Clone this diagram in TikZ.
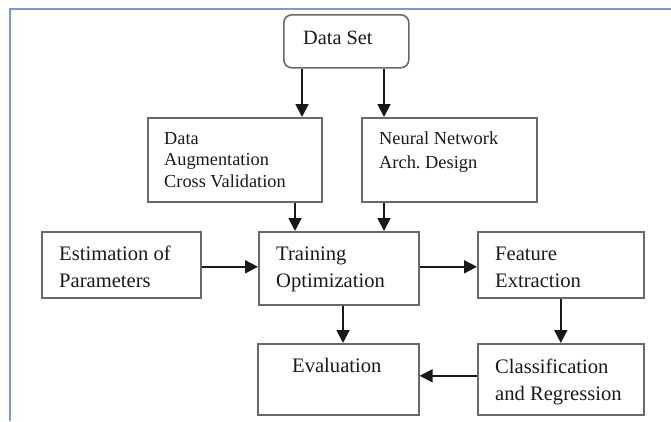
\documentclass[tikz,border=0pt]{standalone}
\usepackage{fontspec}
\setmainfont{Liberation Serif}
\usetikzlibrary{arrows.meta}
\definecolor{frameblue}{RGB}{122,154,204}
\definecolor{boxgray}{RGB}{105,105,105}
\begin{document}
\begin{tikzpicture}[x=1pt,y=-1pt,
  box/.style={draw=boxgray,line width=1.6pt,inner sep=0pt,anchor=north west},
  lbl/.style={inner sep=0pt,anchor=base west,align=left,text=black!90},
  big/.style={font=\fontsize{20.6}{27}\selectfont},
  small/.style={font=\fontsize{18.3}{21.5}\selectfont},
  smallb/.style={font=\fontsize{18.4}{24.5}\selectfont},
  arr/.style={line width=1.8pt,draw=black!90,-{Triangle[length=13pt,width=13pt]}}]
\useasboundingbox (0,0) rectangle (671,421);
\draw[frameblue,line width=2.8pt] (10,421) -- (10,9) -- (671,9);

% boxes
\node[box,rounded corners=8pt,minimum width=125pt,minimum height=53pt] (ds) at (283,14) {};
\node[box,minimum width=174pt,minimum height=84pt] (aug) at (147,117) {};
\node[box,minimum width=175pt,minimum height=84pt] (nn) at (361,117) {};
\node[box,minimum width=159pt,minimum height=66pt] (est) at (41,231) {};
\node[box,minimum width=160pt,minimum height=73pt] (tr) at (258,231) {};
\node[box,minimum width=166pt,minimum height=66pt] (fe) at (477,231) {};
\node[box,minimum width=161pt,minimum height=71pt] (ev) at (257,343) {};
\node[box,minimum width=166pt,minimum height=71pt] (cl) at (477,343) {};

% texts (anchor = baseline of the last line)
\node[lbl,font=\fontsize{20.3}{27}\selectfont] (tds) at (303,44) {Data Set};
\node[lbl,small] (taug) at (164,187) {Data\\Augmentation\\Cross Validation};
\node[lbl,smallb] (tnn) at (379,168.5) {Neural Network\\Arch.\ Design};
\node[lbl,big] (test) at (59,287) {Estimation of\\Parameters};
\node[lbl,big] (ttr) at (276,287) {Training\\Optimization};
\node[lbl,big] (tfe) at (495,287) {Feature\\Extraction};
\node[lbl,big] (tev) at (292,372) {Evaluation};
\node[lbl,big] (tcl) at (495,400) {Classification\\and Regression};

% connectors
\draw[arr] ([xshift=19pt]ds.south west) -- ([xshift=19pt]ds.south west |- aug.north);
\draw[arr] ([xshift=23pt]nn.north west |- ds.south) -- ([xshift=23pt]nn.north west);
\draw[arr] ([xshift=37pt]tr.north west |- aug.south) -- ([xshift=37pt]tr.north west);
\draw[arr] ([xshift=126pt]tr.north west |- nn.south) -- ([xshift=126pt]tr.north west);
\draw[arr] ([yshift=-2pt]est.east) -- ([yshift=-2pt]est.east -| tr.west);
\draw[arr] ([yshift=-2pt]fe.west -| tr.east) -- ([yshift=-2pt]fe.west);
\draw[arr] ([xshift=85pt]tr.south west) -- ([xshift=85pt]tr.south west |- ev.north);
\draw[arr] (fe.south) -- (fe.south |- cl.north);
\draw[arr] ([yshift=3.5pt]cl.west) -- ([yshift=3.5pt]cl.west -| ev.east);
\end{tikzpicture}
\end{document}
